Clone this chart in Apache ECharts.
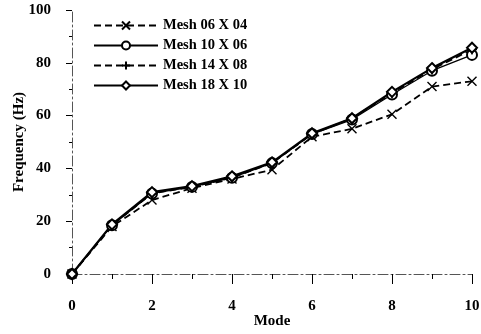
<!DOCTYPE html>
<html>
<head>
<meta charset="utf-8">
<script src="https://cdn.jsdelivr.net/npm/echarts@6/dist/echarts.min.js"></script>
<style>
  html, body { margin: 0; padding: 0; background: #fff; }
  #main { width: 481px; height: 334px; }
</style>
</head>
<body>
<div id="main"></div>
<script>
// data
var modes = ['0', '1', '2', '3', '4', '5', '6', '7', '8', '9', '10'];
var names = ['Mesh 06 X 04', 'Mesh 10 X 06', 'Mesh 14 X 08', 'Mesh 18 X 10'];
var mesh0604 = [0, 18, 28, 32.5, 36, 39.5, 52, 55, 60.5, 71, 73];
var mesh1006 = [0, 18.5, 30.5, 33, 36.5, 42, 53, 58.5, 68, 77, 83];
var mesh1408 = [0, 18.5, 30.5, 33, 36.5, 42, 53, 59, 68.5, 77.5, 85];
var mesh1810 = [0, 18.8, 31, 33.3, 37, 42.3, 53.3, 59, 69, 78, 85.7];

var font = 'Liberation Serif';

// marker shapes
var crossSym = 'path://M0,0L10,10M10,0L0,10';
var plusSym = 'path://M5,0L5,10M0,5L10,5';

function pairs(arr) {
    return arr.map(function(v, i) { return [i, v]; });
}

function makeSeries(name, data, sym, size, dash, width) {
    return {
        name: name,
        type: 'line',
        data: pairs(data),
        symbol: sym,
        symbolSize: size,
        showAllSymbol: true,
        lineStyle: { color: '#000', width: width, type: dash },
        itemStyle: { color: '#000', borderColor: '#000', borderWidth: 1.4 },
        emphasis: { disabled: true },
        animation: false
    };
}

var myChart = echarts.init(document.getElementById('main'));

var option = {
    backgroundColor: '#fff',
    grid: { left: 72, right: 9, top: 10, bottom: 60, containLabel: false, outerBoundsMode: 'none' },
    legend: {
        left: 88,
        top: 13,
        orient: 'vertical',
        itemWidth: 64,
        itemHeight: 10,
        itemGap: 5,
        textStyle: { fontFamily: font, fontWeight: 'bold', fontSize: 14.5, color: '#000' },
        data: names
    },
    xAxis: {
        type: 'value',
        min: 0,
        max: 10,
        interval: 2,
        name: 'Mode',
        nameLocation: 'middle',
        nameGap: 40,
        nameMoveOverlap: false,
        nameTextStyle: { fontFamily: font, fontWeight: 'bold', fontSize: 15, color: '#000' },
        axisLine: { lineStyle: { color: '#555', width: 1, type: [10, 3, 2, 3] } },
        axisTick: { length: 10, lineStyle: { color: '#000' } },
        minorTick: { show: true, splitNumber: 2, length: 5, lineStyle: { color: '#000' } },
        axisLabel: { fontFamily: font, fontWeight: 'bold', fontSize: 15, color: '#000', margin: 25 },
        splitLine: { show: false }
    },
    yAxis: {
        type: 'value',
        min: 0,
        max: 100,
        interval: 20,
        name: 'Frequency (Hz)',
        nameLocation: 'middle',
        nameGap: 45,
        nameMoveOverlap: false,
        nameTextStyle: { fontFamily: font, fontWeight: 'bold', fontSize: 15, color: '#000' },
        axisLine: { show: true, lineStyle: { color: '#555', width: 1, type: [10, 3, 2, 3] } },
        axisTick: { show: true, length: 6, lineStyle: { color: '#000' } },
        minorTick: { show: true, splitNumber: 2, length: 3, lineStyle: { color: '#000' } },
        axisLabel: { fontFamily: font, fontWeight: 'bold', fontSize: 15, color: '#000', margin: 21 },
        splitLine: { show: false }
    },
    series: [
        makeSeries(names[0], mesh0604, crossSym, 9, [7, 4], 1.8),
        makeSeries(names[1], mesh1006, 'emptyCircle', 10, 'solid', 1.3),
        makeSeries(names[2], mesh1408, plusSym, 10, [7, 4], 1.8),
        makeSeries(names[3], mesh1810, 'emptyDiamond', 10, 'solid', 2.2)
    ]
};

myChart.setOption(option);
</script>
</body>
</html>
